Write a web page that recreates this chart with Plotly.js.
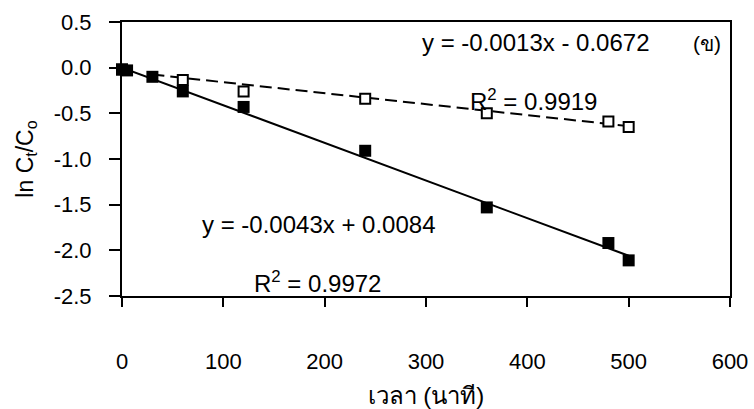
<!DOCTYPE html>
<html>
<head>
<meta charset="utf-8">
<script src="https://cdn.plot.ly/plotly-3.0.1.min.js"></script>
<style>html,body{margin:0;padding:0;background:#fff;}#chart{width:754px;height:409px;}</style>
</head>
<body>
<div id="chart"></div>
<script>
// Data
const timeFilled = [0, 5, 30, 60, 120, 240, 360, 480, 500];
const lnFilled   = [-0.02, -0.03, -0.10, -0.26, -0.43, -0.91, -1.53, -1.92, -2.11];
const timeOpen   = [0, 60, 120, 240, 360, 480, 500];
const lnOpen     = [-0.02, -0.135, -0.26, -0.34, -0.50, -0.59, -0.65];
// Trend lines (endpoints)
const fitFilledX = [0, 500];
const fitFilledY = [0.0, -2.06];
const fitOpenX   = [30, 500];
const fitOpenY   = [-0.075, -0.64];
const xTicks = [0, 100, 200, 300, 400, 500, 600];
const yTicks = [-2.5, -2.0, -1.5, -1.0, -0.5, 0.0, 0.5];
const yTickText = ['-2.5', '-2.0', '-1.5', '-1.0', '-0.5', '0.0', '0.5'];
const eqOpen = 'y = -0.0013x - 0.0672';
const r2Open = 'R<sup>2</sup> = 0.9919';
const eqFilled = 'y = -0.0043x + 0.0084';
const r2Filled = 'R<sup>2</sup> = 0.9972';
const panelLabel = '(ข)';

const FONT = 'Liberation Sans, Arial, Noto Sans, sans-serif';

const traces = [
  {x: fitOpenX, y: fitOpenY, mode: 'lines', line: {color: '#000', width: 2, dash: '12px,6px'}, hoverinfo: 'skip'},
  {x: fitFilledX, y: fitFilledY, mode: 'lines', line: {color: '#000', width: 2}, hoverinfo: 'skip'},
  {x: timeOpen, y: lnOpen, mode: 'markers', cliponaxis: false,
   marker: {symbol: 'square', size: 10, color: '#fff', line: {color: '#000', width: 2}}},
  {x: timeFilled, y: lnFilled, mode: 'markers', cliponaxis: false,
   marker: {symbol: 'square', size: 12, color: '#000', line: {width: 0}}}
];

const layout = {
  width: 754, height: 409,
  margin: {l: 122, r: 24, t: 22, b: 113, pad: 0},
  paper_bgcolor: '#fff', plot_bgcolor: '#fff',
  showlegend: false,
  font: {family: FONT, size: 22, color: '#000'},
  xaxis: {
    range: [0, 600], tickvals: xTicks, ticktext: xTicks.map(String),
    showgrid: false, zeroline: false,
    showline: true, linecolor: '#000', linewidth: 2, mirror: true,
    ticks: 'outside', ticklen: 9, tickwidth: 2, tickcolor: '#000',
    ticklabelstandoff: 36,
    tickfont: {family: FONT, size: 22, color: '#000'},
    title: {text: 'เวลา (นาที)', font: {family: FONT, size: 24, color: '#000'}, standoff: 14}
  },
  yaxis: {
    range: [-2.5, 0.5], tickvals: yTicks, ticktext: yTickText,
    showgrid: false, zeroline: false,
    showline: true, linecolor: '#000', linewidth: 2, mirror: true,
    ticks: 'outside', ticklen: 11, tickwidth: 2, tickcolor: '#000',
    ticklabelstandoff: 13,
    tickfont: {family: FONT, size: 22, color: '#000'},
    title: {text: 'ln C<sub>t</sub>/C<sub>o</sub>', font: {family: FONT, size: 23, color: '#000'}, standoff: 14}
  },
  annotations: [
    {x: 408, y: 0.28, xref: 'x', yref: 'y', text: eqOpen, showarrow: false, font: {family: FONT, size: 24, color: '#000'}},
    {x: 577, y: 0.27, xref: 'x', yref: 'y', text: panelLabel, showarrow: false, font: {family: FONT, size: 21, color: '#000'}},
    {x: 406, y: -0.35, xref: 'x', yref: 'y', text: r2Open, showarrow: false, font: {family: FONT, size: 24, color: '#000'}},
    {x: 194, y: -1.72, xref: 'x', yref: 'y', text: eqFilled, showarrow: false, font: {family: FONT, size: 24, color: '#000'}},
    {x: 193, y: -2.35, xref: 'x', yref: 'y', text: r2Filled, showarrow: false, font: {family: FONT, size: 24, color: '#000'}}
  ]
};

Plotly.newPlot('chart', traces, layout, {staticPlot: true, displayModeBar: false});
</script>
</body>
</html>
